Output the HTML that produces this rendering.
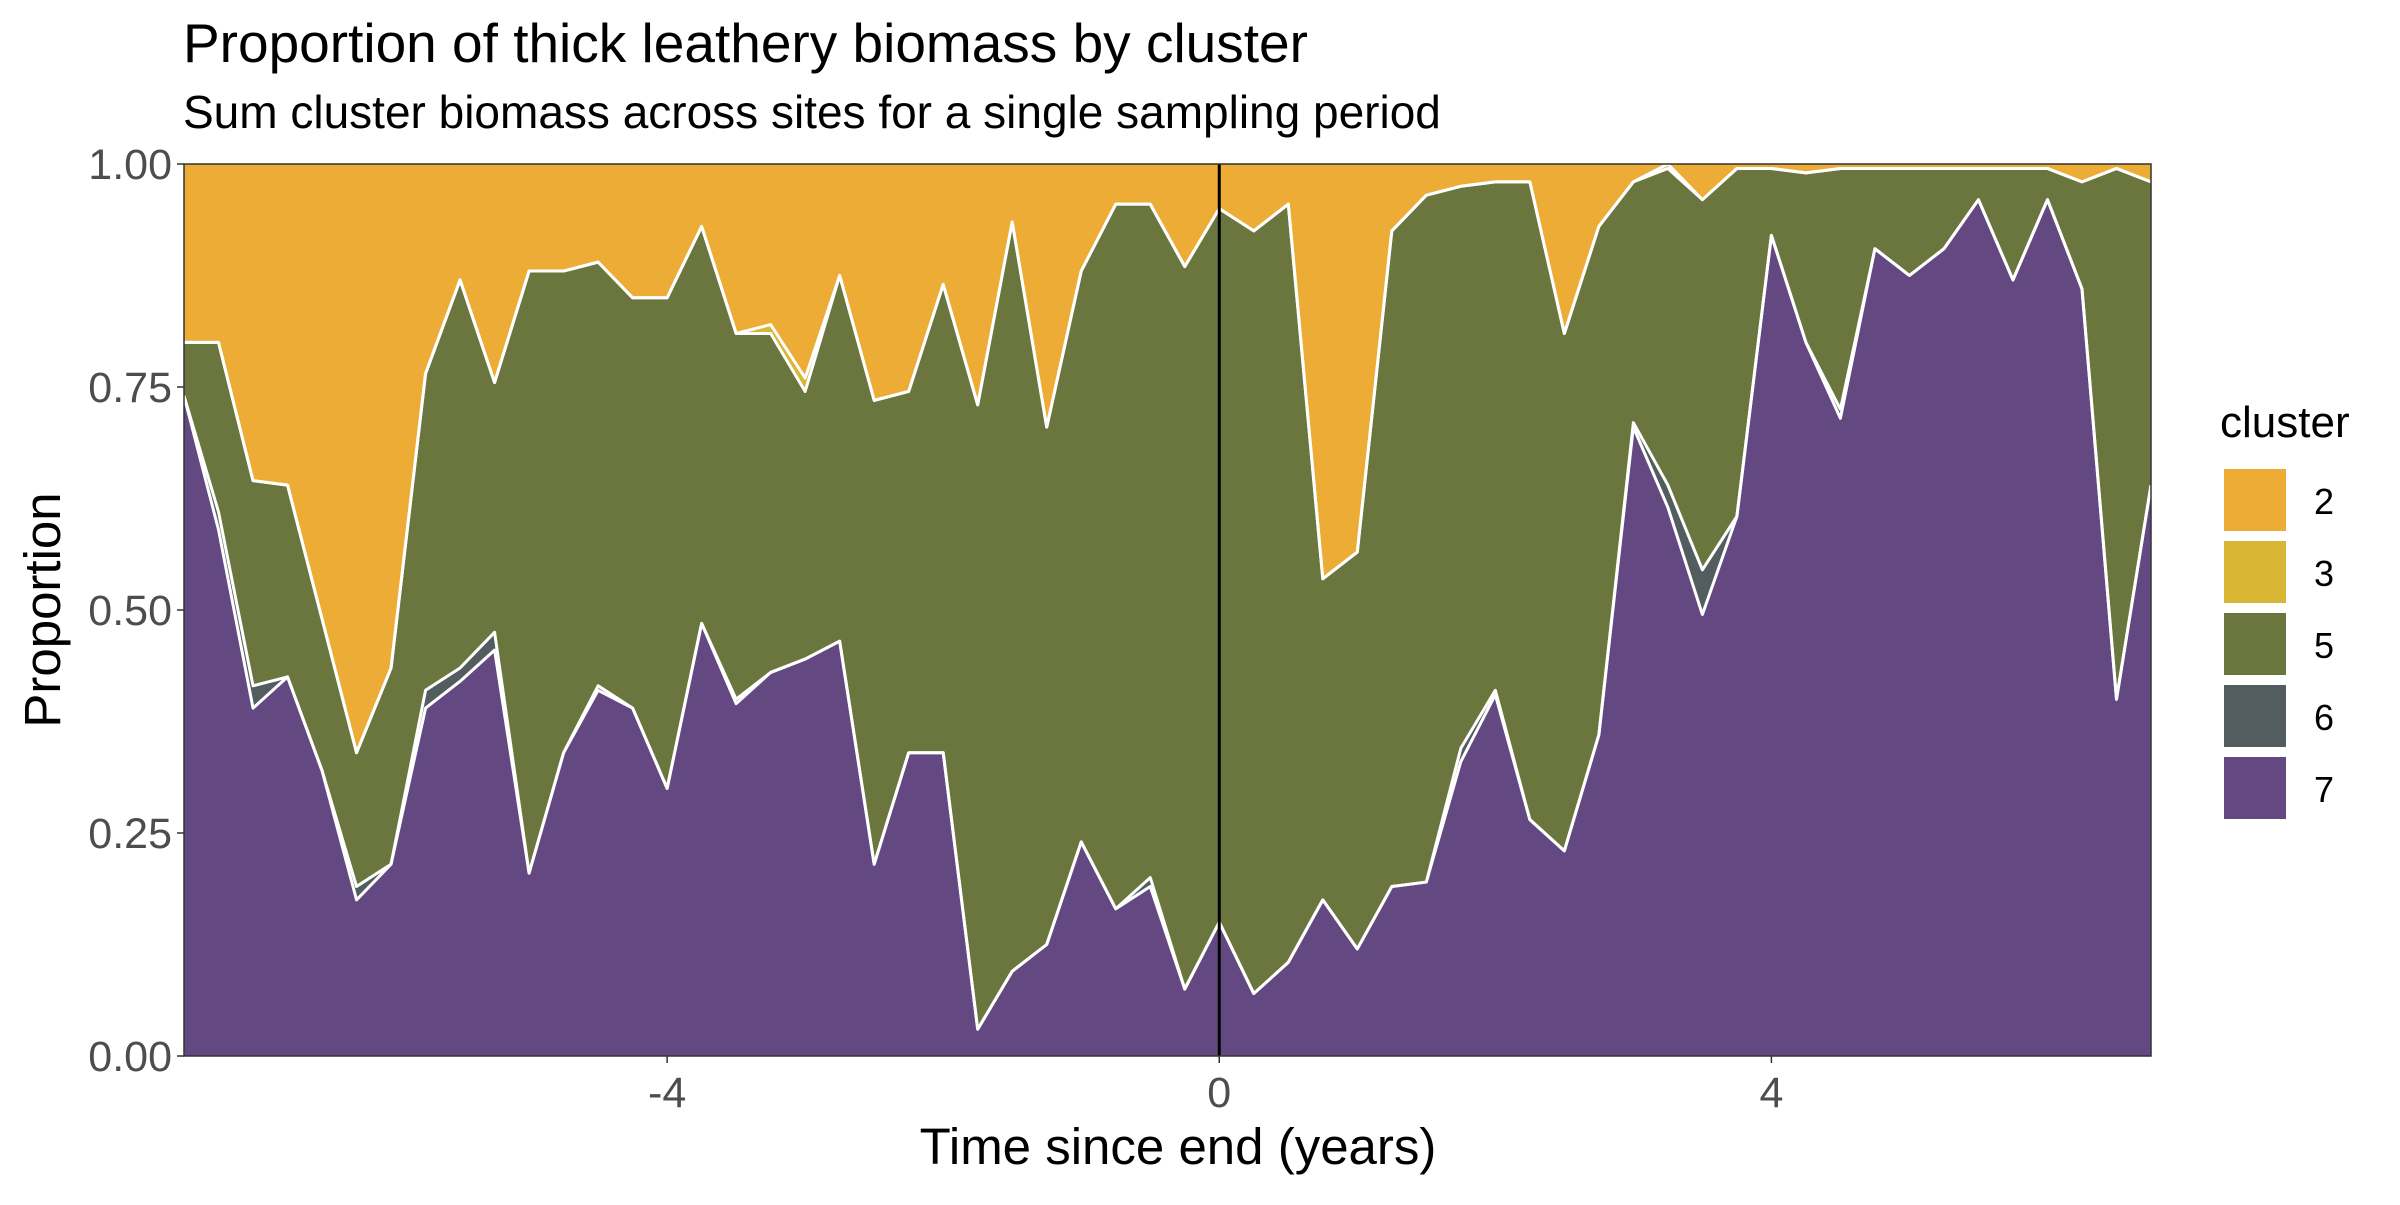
<!DOCTYPE html>
<html><head><meta charset="utf-8"><style>
html,body{margin:0;padding:0;background:#fff;}
svg text{font-family:"Liberation Sans",Arial,sans-serif;}
</style></head><body>
<svg id="chart" width="2400" height="1200" viewBox="0 0 2400 1200" xmlns="http://www.w3.org/2000/svg">
<text x="183" y="62" font-size="55" fill="#000">Proportion of thick leathery biomass by cluster</text>
<text x="183" y="128" font-size="46" fill="#000">Sum cluster biomass across sites for a single sampling period</text>
<g id="plot"></g>
<text x="1178" y="1164" font-size="51" text-anchor="middle" fill="#000">Time since end (years)</text>
<text transform="translate(60,610) rotate(-90)" font-size="51" text-anchor="middle" fill="#000">Proportion</text>
<g id="legend">
<text x="2220" y="437" font-size="44" fill="#000">cluster</text>
</g>
</svg>
<script>
const times=[];for(let i=0;i<58;i++)times.push(-7.5+0.25*i);
const c7=[0.74,0.59,0.39,0.425,0.32,0.175,0.215,0.39,0.42,0.455,0.205,0.34,0.41,0.39,0.30,0.485,0.395,0.43,0.445,0.465,0.215,0.34,0.34,0.03,0.095,0.125,0.24,0.165,0.19,0.075,0.15,0.07,0.105,0.175,0.12,0.19,0.195,0.33,0.405,0.265,0.23,0.36,0.705,0.615,0.495,0.605,0.92,0.80,0.715,0.905,0.875,0.905,0.96,0.87,0.96,0.86,0.40,0.64];
const c6=[0,0.02,0.025,0,0,0.015,0,0.02,0.015,0.02,0,0,0.005,0,0,0,0.005,0,0,0,0,0,0,0,0,0,0,0,0.01,0,0,0,0,0,0,0,0,0.015,0.005,0,0,0,0.005,0.025,0.05,0,0,0,0.01,0,0,0,0,0,0,0,0,0];
const c5=[0.06,0.19,0.23,0.215,0.17,0.15,0.22,0.355,0.435,0.28,0.675,0.54,0.475,0.46,0.55,0.445,0.41,0.38,0.30,0.41,0.52,0.405,0.525,0.70,0.84,0.58,0.64,0.79,0.755,0.81,0.80,0.855,0.85,0.36,0.445,0.735,0.77,0.63,0.57,0.715,0.58,0.57,0.27,0.355,0.415,0.39,0.075,0.19,0.27,0.09,0.12,0.09,0.035,0.125,0.035,0.12,0.595,0.34];
const c3=[0,0,0,0,0,0,0,0,0,0,0,0,0,0,0,0,0,0.01,0.015,0,0,0,0,0,0,0,0,0,0,0,0,0,0,0,0,0,0,0,0,0,0,0,0,0.005,0,0,0,0,0,0,0,0,0,0,0,0,0,0];
const c2=c7.map((v,i)=>Math.max(0,1-v-c6[i]-c5[i]-c3[i]));
const xTicks=[-4,0,4];
const yTicks=[0,0.25,0.5,0.75,1];
const yTickLabels=["0.00","0.25","0.50","0.75","1.00"];
const clusterNames=["2","3","5","6","7"];
const NS="http://www.w3.org/2000/svg";
const L=184,R=2151,T=164,B=1056;
const x=t=>L+(t-(-7.5))/(6.75-(-7.5))*(R-L);
const y=v=>B-v*(B-T);
const plot=document.getElementById('plot');
function mk(tag,attrs,parent){const e=document.createElementNS(NS,tag);for(const k in attrs)e.setAttribute(k,attrs[k]);(parent||plot).appendChild(e);return e;}
const layers=[{n:"7",d:c7,col:"#644882"},{n:"6",d:c6,col:"#535D5F"},{n:"5",d:c5,col:"#6B763F"},{n:"3",d:c3,col:"#D9B534"},{n:"2",d:c2,col:"#ECAC35"}];
let base=times.map(()=>0);
const tops=[];
layers.forEach(ly=>{
  const top=base.map((b,i)=>b+ly.d[i]);
  let pts=times.map((t,i)=>x(t)+','+y(top[i]));
  let bpts=times.map((t,i)=>x(t)+','+y(base[i])).reverse();
  const p=mk('polygon',{points:pts.concat(bpts).join(' '),fill:ly.col,stroke:'none'});
  
  
  tops.push({n:ly.n,top});
  base=top;
});
tops.slice(0,4).forEach(tp=>{
  const l=mk('polyline',{points:times.map((t,i)=>x(t)+','+y(tp.top[i])).join(' '),fill:'none',stroke:'#fff','stroke-width':3,'stroke-linejoin':'round'});
  
  
});
const vl=mk('line',{x1:x(0),x2:x(0),y1:T,y2:B,stroke:'#000','stroke-width':3});


const fr=mk('rect',{x:L,y:T,width:R-L,height:B-T,fill:'none',stroke:'#333','stroke-width':1.5});


yTicks.forEach((v,i)=>{
  const tk=mk('line',{x1:L-7,x2:L,y1:y(v),y2:y(v),stroke:'#333','stroke-width':1.5});
  
  
  const tx=mk('text',{x:L-12,y:y(v)+15,'font-size':43,'text-anchor':'end',fill:'#4d4d4d'});
  tx.textContent=yTickLabels[i];
  
  
});
xTicks.forEach(v=>{
  const tk=mk('line',{x1:x(v),x2:x(v),y1:B,y2:B+7,stroke:'#333','stroke-width':1.5});
  
  
  const tx=mk('text',{x:x(v),y:B+51,'font-size':43,'text-anchor':'middle',fill:'#4d4d4d'});
  tx.textContent=String(v);
  
  
});
const legend=document.getElementById('legend');
const legCols={"2":"#ECAC35","3":"#D9B534","5":"#6B763F","6":"#535D5F","7":"#644882"};
clusterNames.forEach((n,i)=>{
  const yy=469+i*72;
  const r=mk('rect',{x:2224,y:yy,width:62,height:62,fill:legCols[n]},legend);
  
  
  const t=mk('text',{x:2314,y:yy+45,'font-size':36,fill:'#000'},legend);
  t.textContent=n;
  
  
});
</script>
</body></html>
